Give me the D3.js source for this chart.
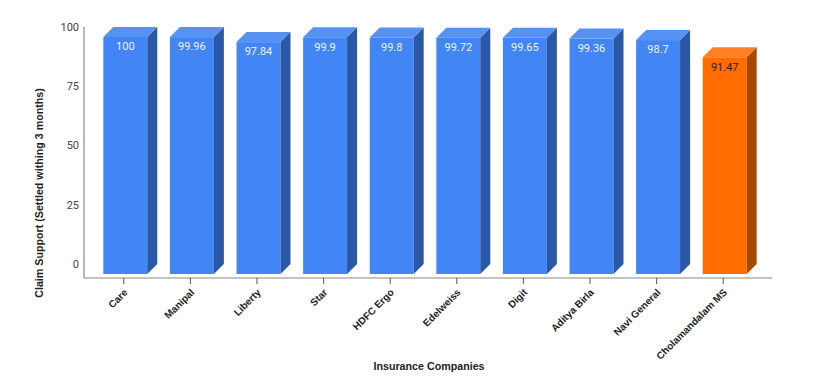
<html>
<head>
<script src="https://d3js.org/d3.v7.min.js" charset="utf-8"></script>
<style>
body { margin: 0; background: #fff; }
svg { font-family: "Liberation Sans", Arial, sans-serif; }
</style>
</head>
<body>
<div id="canvas"></div>
<script>
// data
var companies = ["Care", "Manipal", "Liberty", "Star", "HDFC Ergo", "Edelweiss", "Digit", "Aditya Birla", "Navi General", "Cholamandalam MS"];
var claimValues = [100, 99.96, 97.84, 99.9, 99.8, 99.72, 99.65, 99.36, 98.7, 91.47];
var yTicks = [0, 25, 50, 75, 100];
var highlight = "Cholamandalam MS";

var W = 813, H = 382;
var depth = 10; // 3d offset

var svg = d3.select("#canvas").append("svg").attr("width", W).attr("height", H);

var x = d3.scaleBand().domain(companies).range([92, 758]).paddingInner(0.34).paddingOuter(0.17);
var y = d3.scaleLinear().domain([0, 100]).range([274, 37]);

// axis lines
svg.append("line").attr("x1", 84).attr("x2", 84).attr("y1", 27).attr("y2", 278)
	.attr("stroke", "#888").attr("stroke-width", 1.2);
svg.append("line").attr("x1", 84).attr("x2", 772).attr("y1", 278).attr("y2", 278)
	.attr("stroke", "#888").attr("stroke-width", 1.2);

// y tick labels sit on the back wall
svg.selectAll(".ytick").data(yTicks).enter().append("text")
	.attr("class", "ytick")
	.attr("x", 79)
	.attr("y", function(d){ return y(d) - depth; })
	.attr("dy", "0.35em")
	.attr("text-anchor", "end")
	.attr("font-size", 11)
	.attr("font-family", "Roboto, sans-serif")
	.attr("fill", "#444")
	.text(function(d){ return d; });

// x ticks
svg.selectAll(".xtick").data(companies).enter().append("line")
	.attr("x1", function(d){ return x(d) + x.bandwidth()/2 - 1.5; })
	.attr("x2", function(d){ return x(d) + x.bandwidth()/2 - 1.5; })
	.attr("y1", 278).attr("y2", 284)
	.attr("stroke", "#555");

svg.selectAll(".xlab").data(companies).enter().append("text")
	.attr("transform", function(d){
		var cx = x(d) + x.bandwidth()/2 + 3;
		return "translate(" + cx + ",293) rotate(-45)";
	})
	.attr("text-anchor", "end")
	.attr("font-size", 10)
	.attr("font-weight", "bold")
	.attr("fill", "#222")
	.text(function(d){ return d; });

// bars
var bars = svg.selectAll(".bar").data(companies).enter().append("g");
function col(d, part){
	var orange = d === highlight;
	if (part === "front") return orange ? "#ff6d01" : "#4285f4";
	if (part === "side") return orange ? "#a84900" : "#2b57a7";
	return orange ? "#ff8124" : "#5592f2";
}
bars.each(function(d, i){
	var g = d3.select(this);
	var x0 = x(d), x1 = x(d) + x.bandwidth();
	var yt = y(claimValues[i]), yb = y(0);
	g.append("rect").attr("x", x0).attr("y", yt).attr("width", x1 - x0).attr("height", yb - yt)
		.attr("fill", col(d, "front"));
	g.append("path")
		.attr("d", "M" + x1 + "," + yt + "L" + (x1 + depth) + "," + (yt - depth) + "L" + (x1 + depth) + "," + (yb - depth) + "L" + x1 + "," + yb + "Z")
		.attr("fill", col(d, "side"));
	g.append("path")
		.attr("d", "M" + x0 + "," + yt + "L" + (x0 + depth) + "," + (yt - depth) + "L" + (x1 + depth) + "," + (yt - depth) + "L" + x1 + "," + yt + "Z")
		.attr("fill", col(d, "top"));
	g.append("text")
		.attr("x", (x0 + x1) / 2)
		.attr("y", yt + 9.5)
		.attr("dy", "0.35em")
		.attr("text-anchor", "middle")
		.attr("font-size", 11)
		.attr("font-family", "Roboto, sans-serif")
		.attr("fill", d === highlight ? "#3a1800" : "#eef3ff")
		.text(claimValues[i]);
});

// axis titles
svg.append("text")
	.attr("transform", "translate(43,193) rotate(-90)")
	.attr("text-anchor", "middle")
	.attr("font-size", 10.7)
	.attr("font-weight", "bold")
	.attr("fill", "#222")
	.text("Claim Support (Settled withing 3 months)");

svg.append("text")
	.attr("x", 429).attr("y", 370)
	.attr("text-anchor", "middle")
	.attr("font-size", 10.7)
	.attr("font-weight", "bold")
	.attr("fill", "#222")
	.text("Insurance Companies");
</script>
</body>
</html>
